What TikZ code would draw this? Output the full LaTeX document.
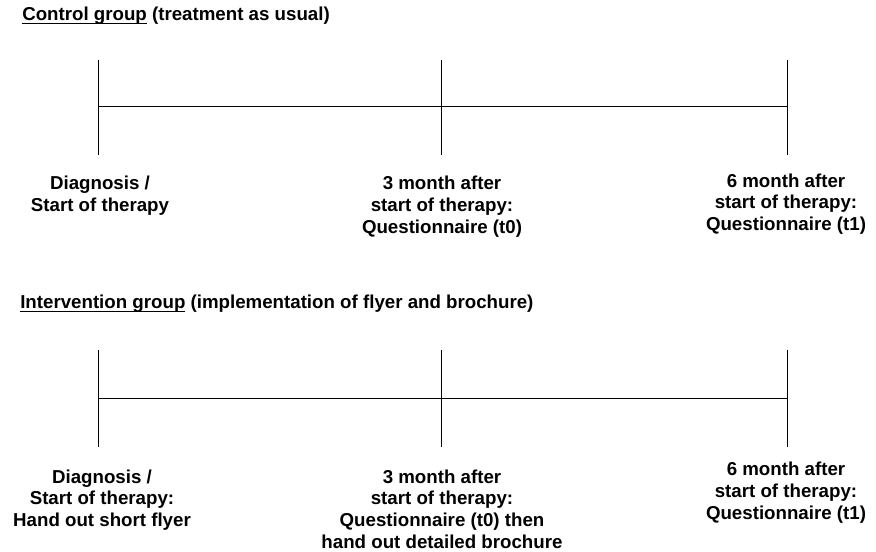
\documentclass[tikz,border=0pt]{standalone}
\usepackage{fontspec}
\setmainfont{Liberation Sans}
\usepackage{tikz}
\usetikzlibrary{positioning}
\newcommand{\grouphead}[1]{{\setbox0\hbox{#1}\rlap{\rule[-2.6pt]{\wd0}{0.9pt}}\box0}}

\begin{document}
\begin{tikzpicture}[scale=1.0, every node/.style={inner sep=0pt}, font=\bfseries\fontsize{13.3}{15.6}\selectfont]
\useasboundingbox (0,0) rectangle (21.9,-13.8);
% control group
\node[align=left, anchor=west] (ctitle) at (0.55,-0.4){\grouphead{Control group} (treatment as usual)};
\draw (2.45,-1.5) -- (2.45,-3.875);
\draw (11.025,-1.5) -- (11.025,-3.875);
\draw (19.675,-1.5) -- (19.675,-3.875);
\draw (2.45,-2.65) -- (19.675,-2.65);
\node[align=center, below] (cdiag) at (2.5,-4.4){Diagnosis /\\Start of therapy};
\node[align=center, below] (cthree) at (11.05,-4.4){3 month after\\start of therapy:\\Questionnaire (t0)};
\node[align=center, below] (csix) at (19.65,-4.33){6 month after\\start of therapy:\\Questionnaire (t1)};
% intervention group
\node[align=left, anchor=west] (ititle) at (0.5,-7.6){\grouphead{Intervention group} (implementation of flyer and brochure)};
\draw (2.45,-8.75) -- (2.45,-11.175);
\draw (11.025,-8.75) -- (11.025,-11.175);
\draw (19.675,-8.75) -- (19.675,-11.175);
\draw (2.45,-9.95) -- (19.675,-9.95);
\node[align=center, below] (idiag) at (2.55,-11.73){Diagnosis /\\Start of therapy:\\Hand out short flyer};
\node[align=center, below] (ithree) at (11.05,-11.73){3 month after\\start of therapy:\\Questionnaire (t0) then\\hand out detailed brochure};
\node[align=center, below] (isix) at (19.65,-11.55){6 month after\\start of therapy:\\Questionnaire (t1)};
\end{tikzpicture}
\end{document}
